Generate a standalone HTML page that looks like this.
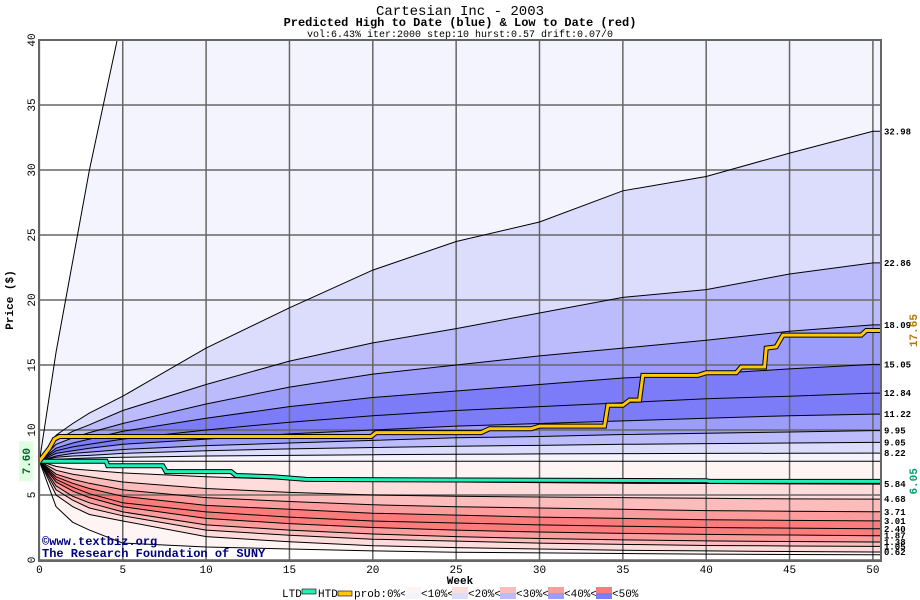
<!DOCTYPE html>
<html><head><meta charset="utf-8"><style>
html,body{margin:0;padding:0;background:#fff;}
svg{display:block;font-family:"Liberation Mono",monospace;}
</style></head><body>
<svg id="chart" width="920" height="600" xmlns="http://www.w3.org/2000/svg">
<text x="460" y="15" text-anchor="middle" font-size="14">Cartesian Inc - 2003</text>
<text x="460" y="26" text-anchor="middle" font-size="12" font-weight="bold">Predicted High to Date (blue) &amp;  Low to Date (red)</text>
<text x="460" y="37" text-anchor="middle" font-size="10">vol:6.43% iter:2000 step:10 hurst:0.57 drift:0.07/0</text>
<defs><clipPath id="pc"><rect x="39" y="40" width="842" height="521"/></clipPath></defs>
<g id="bands" clip-path="url(#pc)"></g>
<g id="grid"></g>
<g id="curves" clip-path="url(#pc)"></g>
<g id="paths" clip-path="url(#pc)"></g>
<rect x="39" y="40" width="842" height="521" fill="none" stroke="#666" stroke-width="2"/>
<g id="labels"></g>
<text x="42" y="545" font-size="12" font-weight="bold" fill="#000080">©www.textbiz.org</text>
<text x="42" y="557" font-size="12" font-weight="bold" fill="#000080">The Research Foundation of SUNY</text>
<text transform="translate(13,300) rotate(-90)" text-anchor="middle" font-size="11" font-weight="bold">Price ($)</text>
<text x="460" y="584" text-anchor="middle" font-size="11" font-weight="bold">Week</text>
<g id="legend" font-size="11">
<text x="282" y="597">LTD</text>
<rect x="302" y="589" width="14" height="5" fill="#20f0b8" stroke="#000" stroke-width="0.6"/>
<text x="318" y="597">HTD</text>
<rect x="338" y="591" width="14" height="5" fill="#ffc800" stroke="#000" stroke-width="0.6"/>
<text x="354" y="597">prob:0%&lt;</text>
<rect x="405" y="587" width="16" height="6" fill="#fff4f4"/><rect x="405" y="593" width="16" height="6" fill="#f4f4ff"/>
<text x="421" y="597">&lt;10%&lt;</text>
<rect x="452" y="587" width="16" height="6" fill="#fedcdc"/><rect x="452" y="593" width="16" height="6" fill="#dcdcfc"/>
<text x="468" y="597">&lt;20%&lt;</text>
<rect x="500" y="587" width="16" height="6" fill="#fdbcbc"/><rect x="500" y="593" width="16" height="6" fill="#bcbcfc"/>
<text x="516" y="597">&lt;30%&lt;</text>
<rect x="548" y="587" width="16" height="6" fill="#fc9c9c"/><rect x="548" y="593" width="16" height="6" fill="#9c9cfa"/>
<text x="564" y="597">&lt;40%&lt;</text>
<rect x="596" y="587" width="16" height="6" fill="#fc7c7c"/><rect x="596" y="593" width="16" height="6" fill="#7c7cf8"/>
<text x="612" y="597">&lt;50%</text>
</g>
</svg>
<script>
const weeks = [0,1,2,3,5,10,15,20,25,30,35,40,45,50];
const cSteep = [7.6,16,23,30,42,50,50,50,50,50,50,50,50,50];
const c1 = [7.6,9.6,10.5,11.3,12.6,16.3,19.4,22.3,24.5,26,28.4,29.5,31.3,32.98];
const c2 = [7.6,9.2,9.9,10.4,11.5,13.5,15.3,16.7,17.8,19,20.2,20.8,22,22.86];
const c3 = [7.6,8.9,9.4,9.8,10.5,12,13.3,14.3,15,15.7,16.3,16.9,17.6,18.09];
const c4 = [7.6,8.6,9.0,9.3,9.9,10.9,11.8,12.5,13,13.5,14,14.3,14.7,15.05];
const c5 = [7.6,8.4,8.7,8.9,9.3,10,10.6,11.1,11.5,11.8,12.1,12.4,12.6,12.84];
const c6 = [7.6,8.2,8.4,8.6,8.9,9.3,9.7,10,10.3,10.5,10.7,10.9,11.1,11.22];
const c7 = [7.6,8.0,8.2,8.3,8.5,8.8,9.0,9.2,9.4,9.5,9.65,9.75,9.85,9.95];
const c8 = [7.6,7.9,8.0,8.05,8.2,8.4,8.55,8.65,8.75,8.82,8.9,8.95,9.0,9.05];
const c9 = [7.6,7.75,7.8,7.85,7.9,8.0,8.05,8.1,8.13,8.16,8.18,8.2,8.21,8.22];
const cMid = [7.6,7.6,7.6,7.6,7.6,7.6,7.6,7.6,7.6,7.6,7.6,7.6,7.6,7.6];
const d1 = [7.6,7.2,7.0,6.9,6.7,6.4,6.2,6.1,6.0,5.95,5.9,5.88,5.86,5.84];
const d2 = [7.6,6.9,6.6,6.4,6.0,5.5,5.2,5.0,4.9,4.85,4.8,4.75,4.7,4.68];
const d3 = [7.6,6.6,6.2,5.9,5.4,4.8,4.5,4.25,4.1,4.0,3.9,3.8,3.75,3.71];
const d4 = [7.6,6.4,5.9,5.5,4.9,4.2,3.9,3.6,3.45,3.3,3.2,3.1,3.05,3.01];
const d5 = [7.6,6.2,5.6,5.1,4.4,3.7,3.3,3.0,2.85,2.7,2.6,2.5,2.45,2.40];
const d6 = [7.6,6.0,5.3,4.8,4.1,3.2,2.8,2.5,2.3,2.15,2.05,1.97,1.92,1.87];
const d7 = [7.6,5.7,4.9,4.4,3.7,2.7,2.3,2.0,1.8,1.65,1.55,1.47,1.42,1.38];
const d8 = [7.6,5.4,4.6,4.0,3.4,2.3,1.9,1.6,1.45,1.3,1.2,1.12,1.08,1.05];
const d9 = [7.6,5.0,4.1,3.5,3.0,1.8,1.4,1.1,0.95,0.85,0.75,0.7,0.65,0.62];
const dBottom = [7.6,4.1,2.9,2.3,1.3,1.0,0.85,0.7,0.6,0.55,0.5,0.45,0.42,0.4];
const htdWeeks = [0,0.6,0.9,1.2,19.9,20.2,26.5,27,29.5,30,33.9,34.1,35,35.4,36,36.2,39.5,40,41.8,42.1,43.5,43.6,44.2,44.6,49.3,49.6,50.5];
const htdValues = [7.6,8.6,9.3,9.5,9.5,9.8,9.8,10.1,10.1,10.3,10.3,11.9,11.9,12.3,12.3,14.2,14.2,14.4,14.4,14.85,14.85,16.3,16.4,17.3,17.3,17.65,17.65];
const ltdWeeks = [0,4,4.1,7.4,7.6,11.5,11.8,14,16,25,40,40.2,50.5];
const ltdValues = [7.6,7.6,7.25,7.25,6.8,6.8,6.5,6.4,6.2,6.15,6.1,6.05,6.05];
const yTicks = [0,5,10,15,20,25,30,35,40];
const xTicks = [0,5,10,15,20,25,30,35,40,45,50];

const NS = "http://www.w3.org/2000/svg";
const X = w => 39.4 + w * 16.67;
const Y = v => 560 - v * 13.0;
const XEND = 50.5;
function mk(tag, attrs, parent){ const e=document.createElementNS(NS,tag); for(const k in attrs) e.setAttribute(k,attrs[k]); parent.appendChild(e); return e; }
function pts(vals){ const p = weeks.map((w,i)=>[X(w),Y(vals[i])]); p.push([X(XEND),Y(vals[vals.length-1])]); return p; }

const curves = [cSteep,c1,c2,c3,c4,c5,c6,c7,c8,c9,cMid,d1,d2,d3,d4,d5,d6,d7,d8,d9,dBottom];
const colors = ["#f4f4ff","#dcdcfc","#bcbcfc","#9c9cfa","#7c7cf8","#7c7cf8","#9c9cfa","#bcbcfc","#dcdcfc","#f4f4ff","#fff4f4","#fedcdc","#fdbcbc","#fc9c9c","#fc7c7c","#fc7c7c","#fc9c9c","#fdbcbc","#fedcdc","#fff4f4"];
const bands = document.getElementById('bands');
for(let i=0;i<curves.length-1;i++){
  const a = pts(curves[i]), b = pts(curves[i+1]).reverse();
  const poly = mk('polygon',{points:a.concat(b).map(p=>p.join(',')).join(' '),fill:colors[i]},bands);
  
  
}
const grid = document.getElementById('grid');
const labels = document.getElementById('labels');
yTicks.forEach(v=>{
  const l = mk('line',{x1:39,x2:881,y1:Y(v),y2:Y(v),stroke:'#666','stroke-width':1.5},grid);
  
  
  const t = mk('text',{transform:`translate(35,${Y(v)}) rotate(-90)`,'text-anchor':'middle','font-size':11},labels);
  t.textContent = v;
  
  
});
xTicks.forEach(w=>{
  const l = mk('line',{x1:X(w),x2:X(w),y1:40,y2:561,stroke:'#666','stroke-width':1.5},grid);
  
  
  const t = mk('text',{x:X(w),y:573,'text-anchor':'middle','font-size':11},labels);
  t.textContent = w;
  
  
});
const cg = document.getElementById('curves');
curves.forEach((c,i)=>{
  const pl = mk('polyline',{points:pts(c).map(p=>p.join(',')).join(' '),fill:'none',stroke:'#000','stroke-width':1},cg);
  
  
  if(i>0 && c!==cMid && c!==dBottom){
    const t = mk('text',{x:884,y:Y(c[c.length-1])+3,'font-size':9,'font-weight':'bold'},labels);
    t.textContent = c[c.length-1].toFixed(2);
    
    
  }
});
const pg = document.getElementById('paths');
function stepPath(ws,vs,color,name){
  const p = ws.map((w,i)=>X(w)+','+Y(vs[i])).join(' ');
  const o = mk('polyline',{points:p,fill:'none',stroke:'#000','stroke-width':5},pg);
  
  
  const l = mk('polyline',{points:p,fill:'none',stroke:color,'stroke-width':3},pg);
  
  
}
stepPath(ltdWeeks,ltdValues,'#20f0b8','ltd-line');
stepPath(htdWeeks,htdValues,'#ffc800','htd-line');
const startV = htdValues[0], htdEnd = htdValues[htdValues.length-1], ltdEnd = ltdValues[ltdValues.length-1];
const sb = mk('rect',{x:19,y:Y(startV)-20,width:14,height:40,fill:'#e0ffe0'},labels);


const st = mk('text',{transform:`translate(30,${Y(startV)}) rotate(-90)`,'text-anchor':'middle','font-size':11,'font-weight':'bold',fill:'#006030'},labels);
st.textContent = startV.toFixed(2);


const ht = mk('text',{transform:`translate(917,${Y(htdEnd)}) rotate(-90)`,'text-anchor':'middle','font-size':11,'font-weight':'bold',fill:'#b07800'},labels);
ht.textContent = htdEnd.toFixed(2);


const lt = mk('text',{transform:`translate(917,${Y(ltdEnd)}) rotate(-90)`,'text-anchor':'middle','font-size':11,'font-weight':'bold',fill:'#00a070'},labels);
lt.textContent = ltdEnd.toFixed(2);


</script>
</body></html>
